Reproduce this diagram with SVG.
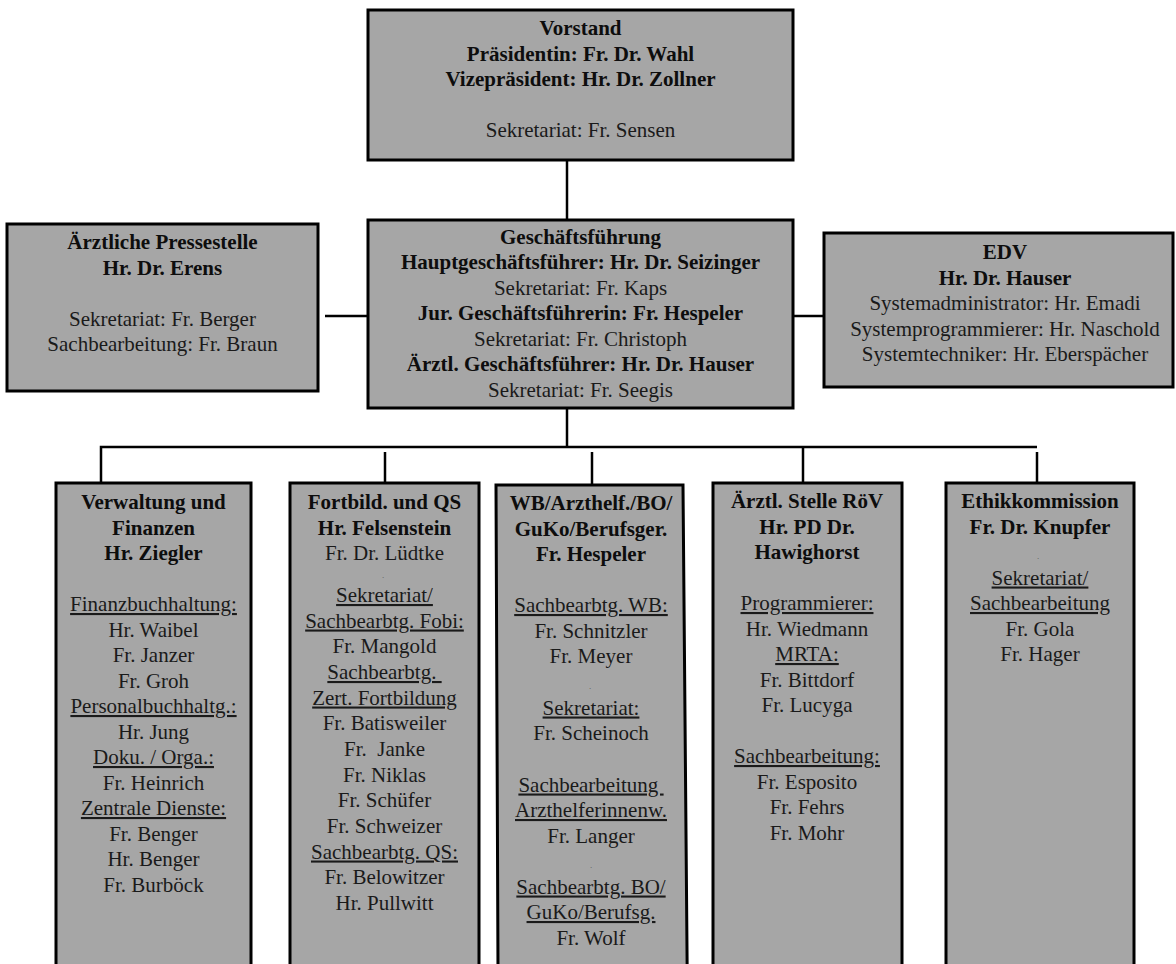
<svg xmlns="http://www.w3.org/2000/svg" width="1176" height="964" viewBox="0 0 1176 964">
<style>
.box{fill:#a6a6a6;stroke:#000;stroke-width:3}
.t{font-family:"Liberation Serif","Times New Roman",serif;font-size:21px;fill:#1a1a1a;text-anchor:middle}
.b{font-weight:bold;fill:#0d0d0d}
.u{text-decoration:underline}
.p{white-space:pre}
.dot{font-family:"Liberation Serif","Times New Roman",serif;font-size:7px;fill:#444;text-anchor:middle}
.c{stroke:#000;stroke-width:2.5;fill:none}
</style>
<rect width="1176" height="964" fill="#fff"/>
<g id="connectors">
<line class="c" x1="567" y1="160" x2="567" y2="220"/>
<line class="c" x1="325" y1="316" x2="368" y2="316"/>
<line class="c" x1="793" y1="316" x2="824" y2="316"/>
<line class="c" x1="567" y1="408" x2="567" y2="447"/>
<polyline class="c" points="101,482 101,447 1037,447"/>
<line class="c" x1="385" y1="452" x2="385" y2="483"/>
<line class="c" x1="592" y1="452" x2="592" y2="485"/>
<line class="c" x1="803" y1="447" x2="803" y2="483"/>
<line class="c" x1="1037" y1="452" x2="1037" y2="483"/>
</g>
<g id="vorstand">
<rect class="box" x="368" y="10" width="425" height="150"/>
<text class="t b" x="580.5" y="35">Vorstand</text>
<text class="t b" x="580.5" y="60.5">Präsidentin: Fr. Dr. Wahl</text>
<text class="t b" x="580.5" y="86">Vizepräsident: Hr. Dr. Zollner</text>
<text class="t" x="580.5" y="137">Sekretariat: Fr. Sensen</text>
</g>
<g id="pressestelle">
<rect class="box" x="7" y="224" width="311" height="167"/>
<text class="t b" x="162.5" y="249">Ärztliche Pressestelle</text>
<text class="t b" x="162.5" y="274.5">Hr. Dr. Erens</text>
<text class="t" x="162.5" y="325.5">Sekretariat: Fr. Berger</text>
<text class="t" x="162.5" y="351">Sachbearbeitung: Fr. Braun</text>
</g>
<g id="geschaeftsfuehrung">
<rect class="box" x="368" y="220" width="425" height="188"/>
<text class="t b" x="580.5" y="243.5">Geschäftsführung</text>
<text class="t b" x="580.5" y="269">Hauptgeschäftsführer: Hr. Dr. Seizinger</text>
<text class="t" x="580.5" y="294.5">Sekretariat: Fr. Kaps</text>
<text class="t b" x="580.5" y="320">Jur. Geschäftsführerin: Fr. Hespeler</text>
<text class="t" x="580.5" y="345.5">Sekretariat: Fr. Christoph</text>
<text class="t b" x="580.5" y="371">Ärztl. Geschäftsführer: Hr. Dr. Hauser</text>
<text class="t" x="580.5" y="396.5">Sekretariat: Fr. Seegis</text>
</g>
<g id="edv">
<rect class="box" x="824" y="233" width="349" height="154"/>
<text class="t b" x="1005" y="259">EDV</text>
<text class="t b" x="1005" y="284.5">Hr. Dr. Hauser</text>
<text class="t" x="1005" y="310">Systemadministrator: Hr. Emadi</text>
<text class="t" x="1005" y="335.5">Systemprogrammierer: Hr. Naschold</text>
<text class="t" x="1005" y="361">Systemtechniker: Hr. Eberspächer</text>
</g>
<g id="verwaltung">
<rect class="box" x="56" y="483" width="195" height="490"/>
<text class="t b" x="153.5" y="509">Verwaltung und</text>
<text class="t b" x="153.5" y="534.5">Finanzen</text>
<text class="t b" x="153.5" y="560">Hr. Ziegler</text>
<text class="t u" x="153.5" y="611">Finanzbuchhaltung:</text>
<text class="t" x="153.5" y="636.5">Hr. Waibel</text>
<text class="t" x="153.5" y="662">Fr. Janzer</text>
<text class="t" x="153.5" y="687.5">Fr. Groh</text>
<text class="t u" x="153.5" y="713">Personalbuchhaltg.:</text>
<text class="t" x="153.5" y="738.5">Hr. Jung</text>
<text class="t u" x="153.5" y="764">Doku. / Orga.:</text>
<text class="t" x="153.5" y="789.5">Fr. Heinrich</text>
<text class="t u" x="153.5" y="815">Zentrale Dienste:</text>
<text class="t" x="153.5" y="840.5">Fr. Benger</text>
<text class="t" x="153.5" y="866">Hr. Benger</text>
<text class="t" x="153.5" y="891.5">Fr. Burböck</text>
</g>
<g id="fortbildung">
<rect class="box" x="290" y="483" width="189" height="490"/>
<text class="t b" x="384.5" y="509">Fortbild. und QS</text>
<text class="t b" x="384.5" y="534.5">Hr. Felsenstein</text>
<text class="t" x="384.5" y="560">Fr. Dr. Lüdtke</text>
<text class="dot" x="383" y="578">.</text>
<text class="t u" x="384.5" y="602">Sekretariat/</text>
<text class="t u" x="384.5" y="627.5">Sachbearbtg. Fobi:</text>
<text class="t" x="384.5" y="653">Fr. Mangold</text>
<text class="t u p" x="384.5" y="679">Sachbearbtg. </text>
<text class="t u" x="384.5" y="704.5">Zert. Fortbildung</text>
<text class="t" x="384.5" y="730">Fr. Batisweiler</text>
<text class="t p" x="384.5" y="756">Fr.  Janke</text>
<text class="t" x="384.5" y="781.5">Fr. Niklas</text>
<text class="t" x="384.5" y="807">Fr. Schüfer</text>
<text class="t" x="384.5" y="833">Fr. Schweizer</text>
<text class="t u" x="384.5" y="858.5">Sachbearbtg. QS:</text>
<text class="t" x="384.5" y="884">Fr. Belowitzer</text>
<text class="t" x="384.5" y="910">Hr. Pullwitt</text>
</g>
<g id="weiterbildung">
<polygon class="box" points="496,485 683,485 687.2,972 498,972"/>
<text class="t b" x="591" y="510">WB/Arzthelf./BO/</text>
<text class="t b" x="591" y="535.5">GuKo/Berufsger.</text>
<text class="t b" x="591" y="561">Fr. Hespeler</text>
<text class="t u" x="591" y="612">Sachbearbtg. WB:</text>
<text class="t" x="591" y="637.5">Fr. Schnitzler</text>
<text class="t" x="591" y="663">Fr. Meyer</text>
<text class="dot" x="590" y="689">.</text>
<text class="t u" x="591" y="714.5">Sekretariat:</text>
<text class="t" x="591" y="740">Fr. Scheinoch</text>
<text class="t u p" x="591" y="791.5">Sachbearbeitung </text>
<text class="t u" x="591" y="817">Arzthelferinnenw.</text>
<text class="t" x="591" y="842.5">Fr. Langer</text>
<text class="dot" x="591" y="868">.</text>
<text class="t u" x="591" y="893.5">Sachbearbtg. BO/</text>
<text class="t u" x="591" y="919">GuKo/Berufsg.</text>
<text class="t" x="591" y="944.5">Fr. Wolf</text>
</g>
<g id="roev">
<rect class="box" x="713" y="483" width="189" height="490"/>
<text class="t b" x="807" y="508">Ärztl. Stelle RöV</text>
<text class="t b" x="807" y="533.5">Hr. PD Dr.</text>
<text class="t b" x="807" y="559">Hawighorst</text>
<text class="t u" x="807" y="610">Programmierer:</text>
<text class="t" x="807" y="635.5">Hr. Wiedmann</text>
<text class="t u" x="807" y="661">MRTA:</text>
<text class="t" x="807" y="686.5">Fr. Bittdorf</text>
<text class="t" x="807" y="712">Fr. Lucyga</text>
<text class="t u" x="807" y="763">Sachbearbeitung:</text>
<text class="t" x="807" y="788.5">Fr. Esposito</text>
<text class="t" x="807" y="814">Fr. Fehrs</text>
<text class="t" x="807" y="839.5">Fr. Mohr</text>
</g>
<g id="ethikkommission">
<rect class="box" x="946" y="483" width="188" height="490"/>
<text class="t b" x="1040" y="508">Ethikkommission</text>
<text class="t b" x="1040" y="533.5">Fr. Dr. Knupfer</text>
<text class="dot" x="1038" y="559">.</text>
<text class="t u" x="1040" y="584.5">Sekretariat/</text>
<text class="t u" x="1040" y="610">Sachbearbeitung</text>
<text class="t" x="1040" y="635.5">Fr. Gola</text>
<text class="t" x="1040" y="661">Fr. Hager</text>
</g>
</svg>
